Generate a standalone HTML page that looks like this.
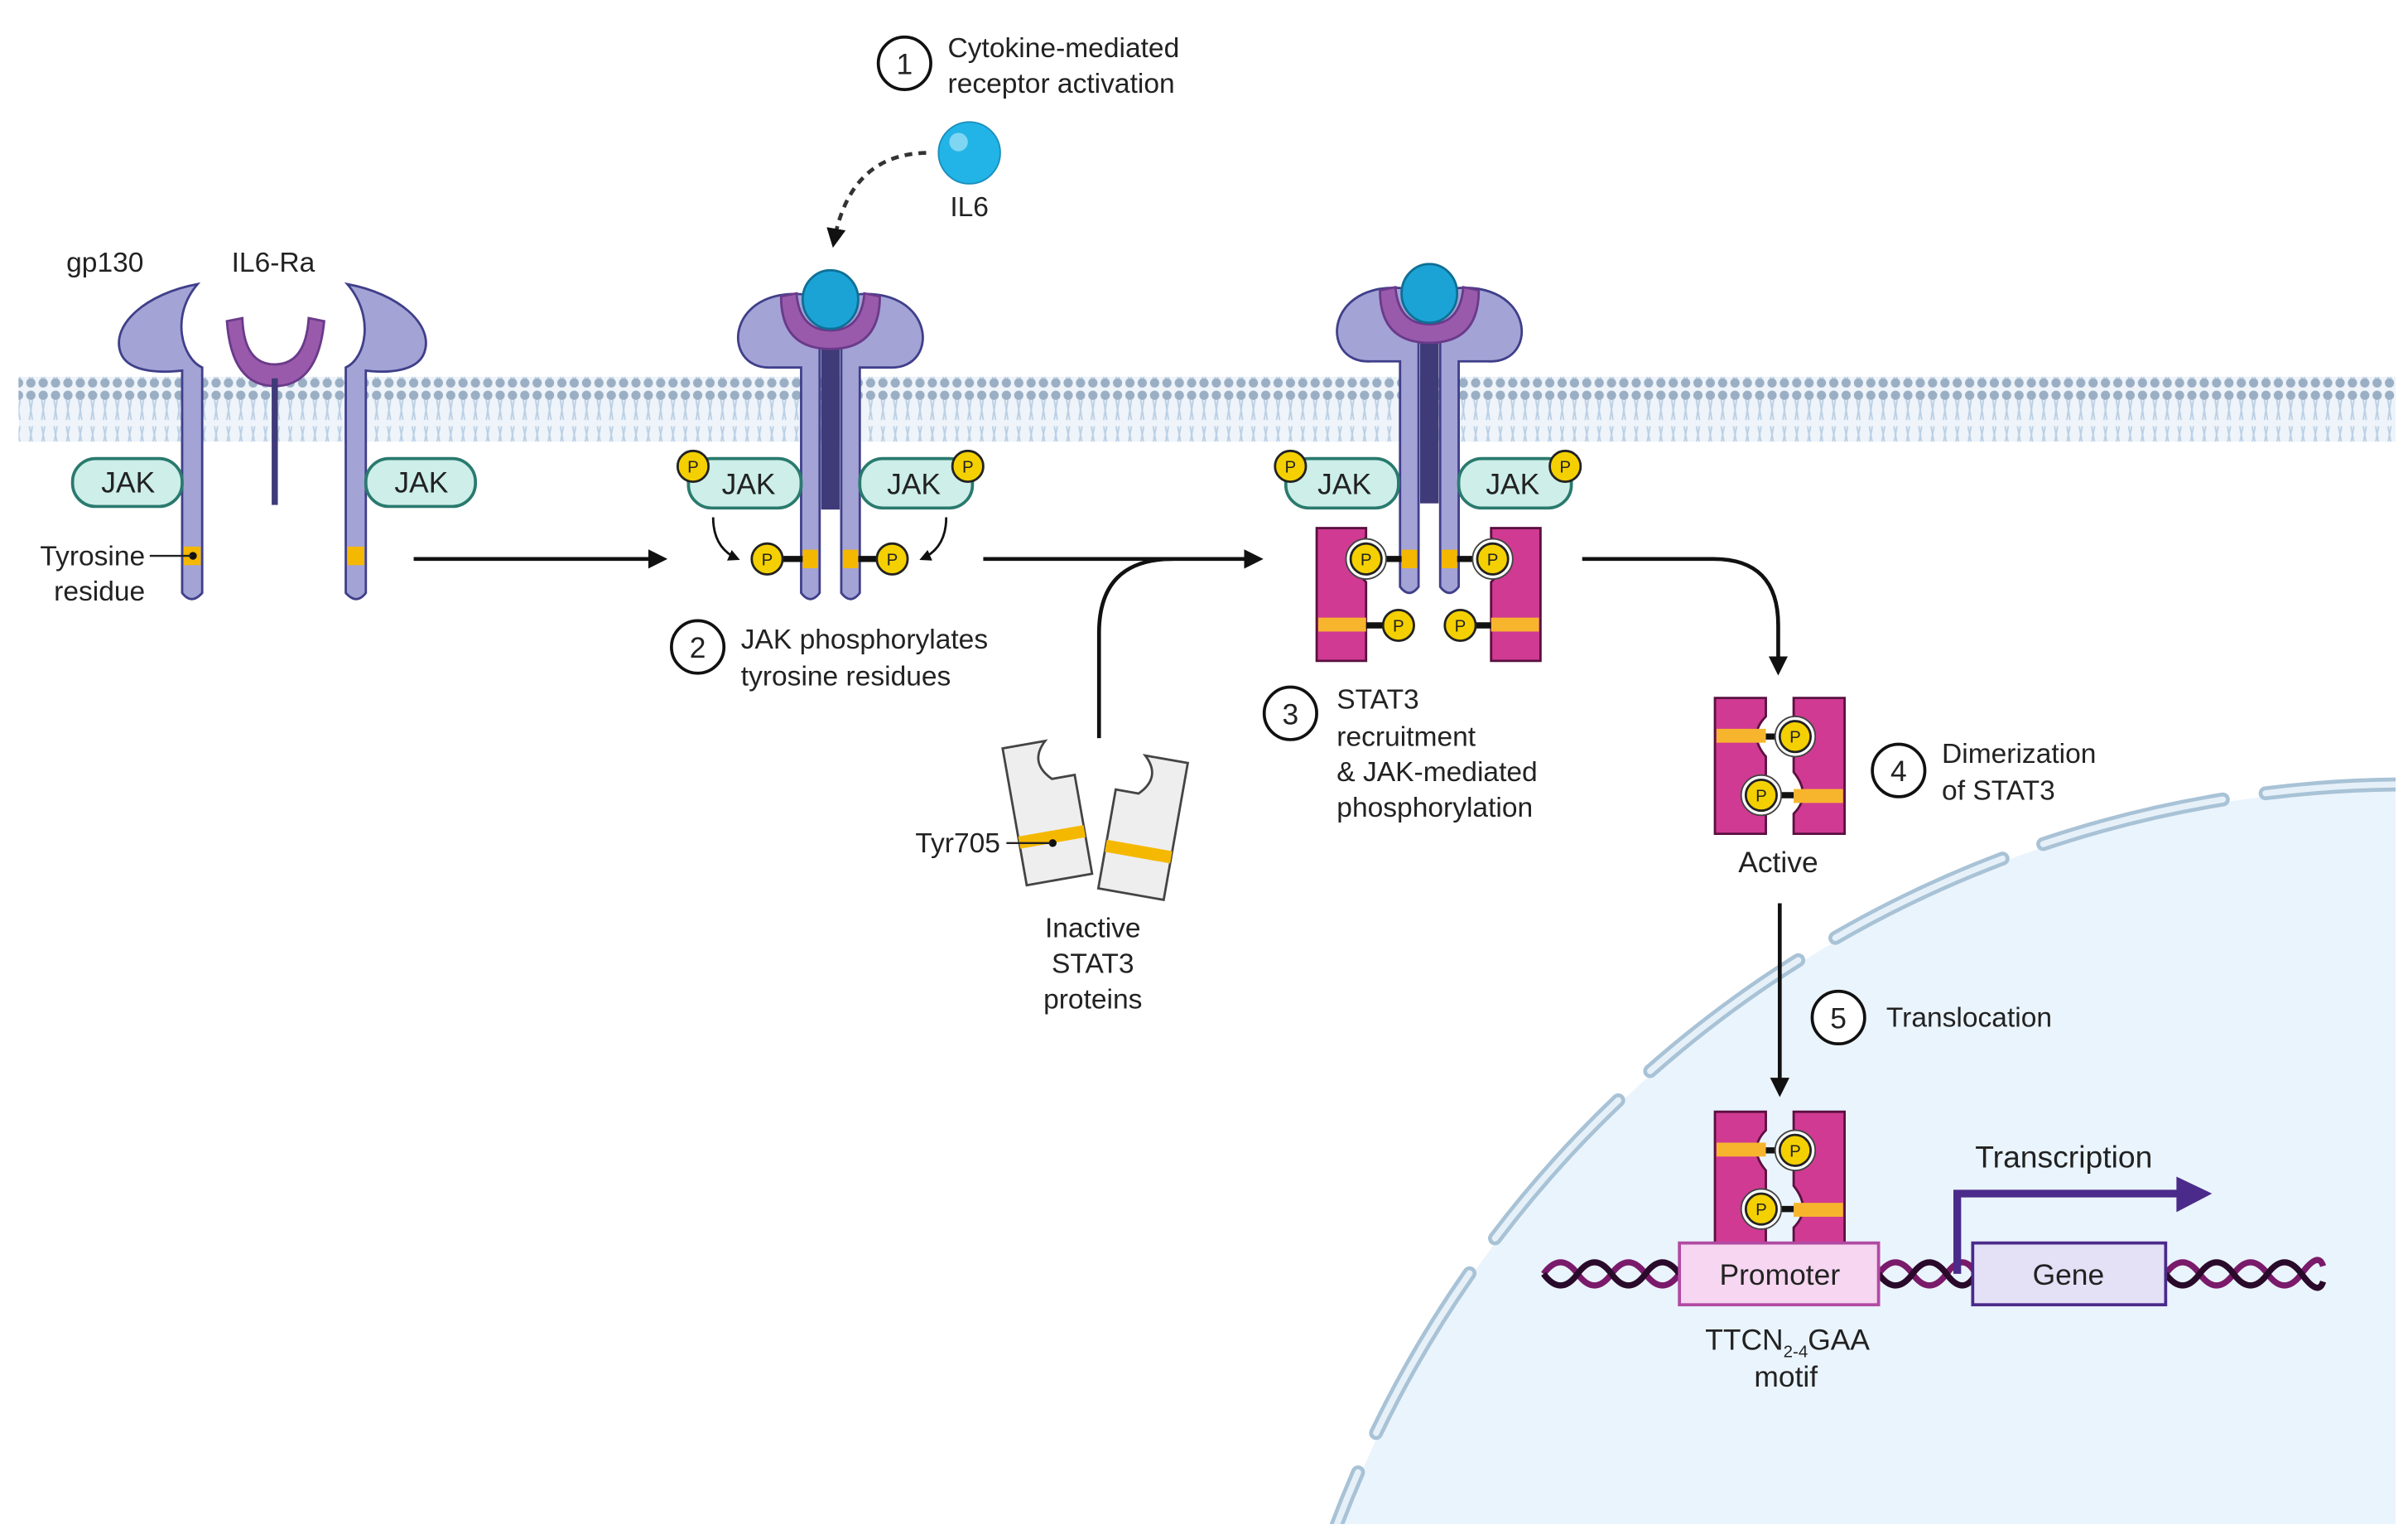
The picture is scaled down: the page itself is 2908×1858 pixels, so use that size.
<!DOCTYPE html>
<html><head><meta charset="utf-8"><style>html,body{margin:0;padding:0;background:#fff;overflow:hidden;width:2908px;height:1858px}svg{display:block}text{font-family:"Liberation Sans",sans-serif;fill:#222}</style></head><body>
<svg width="2908" height="1858" viewBox="0 0 1560 996.7" preserveAspectRatio="none" xmlns="http://www.w3.org/2000/svg">
<defs>
<marker id="ah" viewBox="0 0 10 10" refX="8" refY="5" markerWidth="5" markerHeight="5" orient="auto"><path d="M0,0L10,5L0,10z" fill="#111"/></marker>
<pattern id="lip" width="8" height="42" patternUnits="userSpaceOnUse"><rect width="8" height="42" fill="#eef4fa"/><circle cx="4" cy="4" r="3" fill="#9aaec4"/><circle cx="4" cy="38" r="3" fill="#9aaec4"/><path d="M3,7L5,20M5,7L3,20M3,24L5,35M5,24L3,35" stroke="#bcd0e4" stroke-width="1"/></pattern>
<clipPath id="cl"><rect x="0" y="0" width="1552" height="987"/></clipPath>
<g id="P"><circle r="10" fill="#f5d000" stroke="#222" stroke-width="1.5"/><text y="4" text-anchor="middle" font-size="11" fill="#222">P</text></g>
</defs>
<g clip-path="url(#cl)">
<circle cx="1560" cy="1250" r="740" fill="#eaf4fd"/>
<circle cx="1560" cy="1250" r="742" fill="none" stroke="#a8c2d6" stroke-width="9" stroke-dasharray="120 28" stroke-linecap="round"/>
<circle cx="1560" cy="1250" r="742" fill="none" stroke="#e6f0f8" stroke-width="4" stroke-dasharray="120 28" stroke-linecap="round"/>
</g>
<rect x="12" y="244" width="1540" height="42" fill="url(#lip)"/>
<!-- left receptors -->
<g stroke="#3f3f8a" stroke-width="1.5" fill="#a3a3d6">
<path d="M128,184 C95,190 72,210 78,228 C82,240 100,242 118,240 L118,384 Q124,392 131,384 L131,238 C118,232 110,205 128,184 Z"/>
<path d="M225,184 C258,190 281,210 275,228 C271,240 253,242 237,240 L237,384 Q231,392 224,384 L224,238 C237,232 243,205 225,184 Z"/>
<path d="M147,208 Q150,250 178,250 Q206,250 210,208 L200,206 Q198,236 178,236 Q158,236 157,206 Z" fill="#9a5aab" stroke="#6a3a8a"/>
</g>
<rect x="176" y="245" width="4" height="82" fill="#3f3a78"/>
<rect x="119" y="354" width="11" height="12" fill="#f5b800"/><rect x="225" y="354" width="11" height="12" fill="#f5b800"/>
<circle cx="125" cy="360" r="2.5" fill="#111"/><line x1="97" y1="360" x2="124" y2="360" stroke="#222" stroke-width="1.3"/>
<rect x="47" y="297" width="71" height="31" rx="15" fill="#cdeee9" stroke="#2a7a6e" stroke-width="2"/><text x="83" y="319" text-anchor="middle" font-size="19">JAK</text>
<rect x="237" y="297" width="71" height="31" rx="15" fill="#cdeee9" stroke="#2a7a6e" stroke-width="2"/><text x="273" y="319" text-anchor="middle" font-size="19">JAK</text>
<text x="43" y="176" font-size="18">gp130</text><text x="150" y="176" font-size="18">IL6-Ra</text>
<text x="94" y="366" text-anchor="end" font-size="18">Tyrosine</text><text x="94" y="389" text-anchor="end" font-size="18">residue</text>
<line x1="268" y1="362" x2="430" y2="362" stroke="#111" stroke-width="2.5" marker-end="url(#ah)"/>
<!-- middle complex -->
<g id="cx">
<path d="M530,192 C470,180 465,240 500,238 L519,238 L519,384 Q525,392 531,384 L531,205 Z" fill="#a3a3d6" stroke="#3f3f8a" stroke-width="1.5"/>
<path d="M546,192 C606,180 611,240 576,238 L557,238 L557,384 Q551,392 545,384 L545,205 Z" fill="#a3a3d6" stroke="#3f3f8a" stroke-width="1.5"/>
<rect x="532" y="225" width="12" height="105" fill="#3f3a78"/>
<path d="M506,192 Q506,226 538,226 Q570,226 570,192 L560,190 Q558,214 538,214 Q518,214 516,190 Z" fill="#9a5aab" stroke="#6a3a8a" stroke-width="1.5"/>
<ellipse cx="538" cy="194" rx="18" ry="19" fill="#1ba3d6" stroke="#0f6f95" stroke-width="1.5"/>
</g>
<rect x="446" y="297" width="73" height="32" rx="15" fill="#cdeee9" stroke="#2a7a6e" stroke-width="2"/><text x="485" y="320" text-anchor="middle" font-size="19">JAK</text>
<rect x="557" y="297" width="73" height="32" rx="15" fill="#cdeee9" stroke="#2a7a6e" stroke-width="2"/><text x="592" y="320" text-anchor="middle" font-size="19">JAK</text>
<use href="#P" x="449" y="302"/><use href="#P" x="627" y="302"/>
<rect x="520" y="356" width="10" height="12" fill="#f5b800"/><rect x="546" y="356" width="10" height="12" fill="#f5b800"/>
<line x1="505" y1="362" x2="520" y2="362" stroke="#111" stroke-width="4"/><line x1="556" y1="362" x2="570" y2="362" stroke="#111" stroke-width="4"/>
<use href="#P" x="497" y="362"/><use href="#P" x="578" y="362"/>
<path d="M462,335 Q462,355 478,362" fill="none" stroke="#111" stroke-width="1.5" marker-end="url(#ah)"/>
<path d="M613,335 Q613,355 597,362" fill="none" stroke="#111" stroke-width="1.5" marker-end="url(#ah)"/>
<path d="M600,99 Q550,100 540,158" fill="none" stroke="#333" stroke-width="2.5" stroke-dasharray="5 4" marker-end="url(#ah)"/>
<circle cx="628" cy="99" r="20" fill="#22b4e6" stroke="#1a8fbf" stroke-width="1"/><circle cx="621" cy="92" r="6" fill="#7fd6f3"/>
<text x="628" y="140" text-anchor="middle" font-size="18">IL6</text>
<circle cx="586" cy="41" r="17" fill="#fff" stroke="#111" stroke-width="2"/><text x="586" y="48" text-anchor="middle" font-size="19">1</text>
<text x="614" y="37" font-size="18">Cytokine-mediated</text><text x="614" y="60" font-size="18">receptor activation</text>
<circle cx="452" cy="419" r="17" fill="#fff" stroke="#111" stroke-width="2"/><text x="452" y="426" text-anchor="middle" font-size="19">2</text>
<text x="480" y="420" font-size="18">JAK phosphorylates</text><text x="480" y="444" font-size="18">tyrosine residues</text>
<line x1="637" y1="362" x2="816" y2="362" stroke="#111" stroke-width="2.5" marker-end="url(#ah)"/>
<path d="M712,478 L712,410 Q712,362 760,362" fill="none" stroke="#111" stroke-width="2.5"/>
<!-- inactive STAT3 -->
<g transform="rotate(-10 680 525)"><path d="M657,480 L685,480 Q672,492 685,505 L700,505 L700,570 L657,570 Z" fill="#eeeeee" stroke="#444" stroke-width="1.5"/><rect x="657" y="538" width="43" height="8" fill="#f5b800"/></g>
<g transform="rotate(10 742 535)"><path d="M762,490 L734,490 Q747,502 734,515 L719,515 L719,580 L762,580 Z" fill="#eeeeee" stroke="#444" stroke-width="1.5"/><rect x="719" y="548" width="43" height="8" fill="#f5b800"/></g>
<circle cx="682" cy="546" r="2.5" fill="#111"/><line x1="652" y1="546" x2="681" y2="546" stroke="#222" stroke-width="1.3"/>
<text x="648" y="552" text-anchor="end" font-size="18">Tyr705</text>
<text x="708" y="607" text-anchor="middle" font-size="18">Inactive</text><text x="708" y="630" text-anchor="middle" font-size="18">STAT3</text><text x="708" y="653" text-anchor="middle" font-size="18">proteins</text>
<!-- right complex -->
<use href="#cx" x="388" y="-4"/>
<path d="M853,342 L885,342 L885,348 Q870,362 885,377 L885,428 L853,428 Z" fill="#d03a92" stroke="#5a1040" stroke-width="1.5"/>
<path d="M998,342 L966,342 L966,348 Q981,362 966,377 L966,428 L998,428 Z" fill="#d03a92" stroke="#5a1040" stroke-width="1.5"/>
<rect x="854" y="400" width="31" height="9" fill="#f7b52e"/><rect x="966" y="400" width="31" height="9" fill="#f7b52e"/>
<rect x="833" y="297" width="73" height="32" rx="15" fill="#cdeee9" stroke="#2a7a6e" stroke-width="2"/><text x="871" y="320" text-anchor="middle" font-size="19">JAK</text>
<rect x="945" y="297" width="73" height="32" rx="15" fill="#cdeee9" stroke="#2a7a6e" stroke-width="2"/><text x="980" y="320" text-anchor="middle" font-size="19">JAK</text>
<use href="#P" x="836" y="302"/><use href="#P" x="1014" y="302"/>
<rect x="908" y="356" width="10" height="12" fill="#f5b800"/><rect x="934" y="356" width="10" height="12" fill="#f5b800"/>
<line x1="890" y1="362" x2="908" y2="362" stroke="#111" stroke-width="4"/><line x1="944" y1="362" x2="962" y2="362" stroke="#111" stroke-width="4"/>
<circle cx="885" cy="362" r="13" fill="#fff" stroke="#444"/><use href="#P" x="885" y="362"/>
<circle cx="967" cy="362" r="13" fill="#fff" stroke="#444"/><use href="#P" x="967" y="362"/>
<line x1="885" y1="405" x2="900" y2="405" stroke="#111" stroke-width="4"/><line x1="952" y1="405" x2="966" y2="405" stroke="#111" stroke-width="4"/>
<use href="#P" x="906" y="405"/><use href="#P" x="946" y="405"/>
<circle cx="836" cy="462" r="17" fill="#fff" stroke="#111" stroke-width="2"/><text x="836" y="469" text-anchor="middle" font-size="19">3</text>
<text x="866" y="459" font-size="18">STAT3</text><text x="866" y="483" font-size="18">recruitment</text><text x="866" y="506" font-size="18">&amp; JAK-mediated</text><text x="866" y="529" font-size="18">phosphorylation</text>
<path d="M1025,362 L1110,362 Q1152,362 1152,405 L1152,435" fill="none" stroke="#111" stroke-width="2.5" marker-end="url(#ah)"/>
<!-- active dimer -->
<g id="dm">
<path d="M1111,452 L1144,452 L1144,464 Q1132,476 1144,490 L1144,540 L1111,540 Z" fill="#d03a92" stroke="#5a1040" stroke-width="1.5"/>
<path d="M1195,452 L1162,452 L1162,500 Q1174,515 1162,527 L1162,540 L1195,540 Z" fill="#d03a92" stroke="#5a1040" stroke-width="1.5"/>
<rect x="1112" y="472" width="32" height="9" fill="#f7b52e"/><rect x="1162" y="511" width="32" height="9" fill="#f7b52e"/>
<line x1="1144" y1="477" x2="1160" y2="477" stroke="#111" stroke-width="4"/><line x1="1146" y1="515" x2="1162" y2="515" stroke="#111" stroke-width="4"/>
<circle cx="1163" cy="477" r="13" fill="#fff" stroke="#444"/><use href="#P" x="1163" y="477"/>
<circle cx="1141" cy="515" r="13" fill="#fff" stroke="#444"/><use href="#P" x="1141" y="515"/>
</g>
<text x="1152" y="565" text-anchor="middle" font-size="19">Active</text>
<circle cx="1230" cy="499" r="17" fill="#fff" stroke="#111" stroke-width="2"/><text x="1230" y="506" text-anchor="middle" font-size="19">4</text>
<text x="1258" y="494" font-size="18">Dimerization</text><text x="1258" y="518" font-size="18">of STAT3</text>
<line x1="1153" y1="585" x2="1153" y2="708" stroke="#111" stroke-width="2.5" marker-end="url(#ah)"/>
<circle cx="1191" cy="659" r="17" fill="#fff" stroke="#111" stroke-width="2"/><text x="1191" y="666" text-anchor="middle" font-size="19">5</text>
<text x="1222" y="665" font-size="18">Translocation</text>
<!-- DNA -->
<g fill="none" stroke-width="4">
<path d="M1000,825 Q1011,810 1022,825 T1044,825 T1066,825 T1088,825 M1217,825 Q1228,810 1239,825 T1261,825 T1280,825 M1403,825 Q1414,810 1425,825 T1447,825 T1469,825 T1491,825 T1505,820" stroke="#7a1a6a"/>
<path d="M1000,825 Q1011,840 1022,825 T1044,825 T1066,825 T1088,825 M1217,825 Q1228,840 1239,825 T1261,825 T1280,825 M1403,825 Q1414,840 1425,825 T1447,825 T1469,825 T1491,825 T1505,830" stroke="#2a0a2a"/>
</g>
<use href="#dm" y="268"/>
<rect x="1088" y="805" width="129" height="40" fill="#f6d6f0" stroke="#b14aa3" stroke-width="2"/><text x="1153" y="832" text-anchor="middle" font-size="19">Promoter</text>
<rect x="1278" y="805" width="125" height="40" fill="#e4e0f6" stroke="#4a2a8a" stroke-width="2"/><text x="1340" y="832" text-anchor="middle" font-size="19">Gene</text>
<path d="M1268,825 L1268,773 L1412,773" fill="none" stroke="#4a2a8a" stroke-width="5"/><path d="M1410,762 L1433,773 L1410,785 Z" fill="#4a2a8a"/>
<text x="1337" y="756" text-anchor="middle" font-size="20">Transcription</text>
<text x="1158" y="874" text-anchor="middle" font-size="19">TTCN<tspan font-size="11" dy="5">2-4</tspan><tspan dy="-5">GAA</tspan></text>
<text x="1157" y="898" text-anchor="middle" font-size="19">motif</text>
</svg>
</body></html>
